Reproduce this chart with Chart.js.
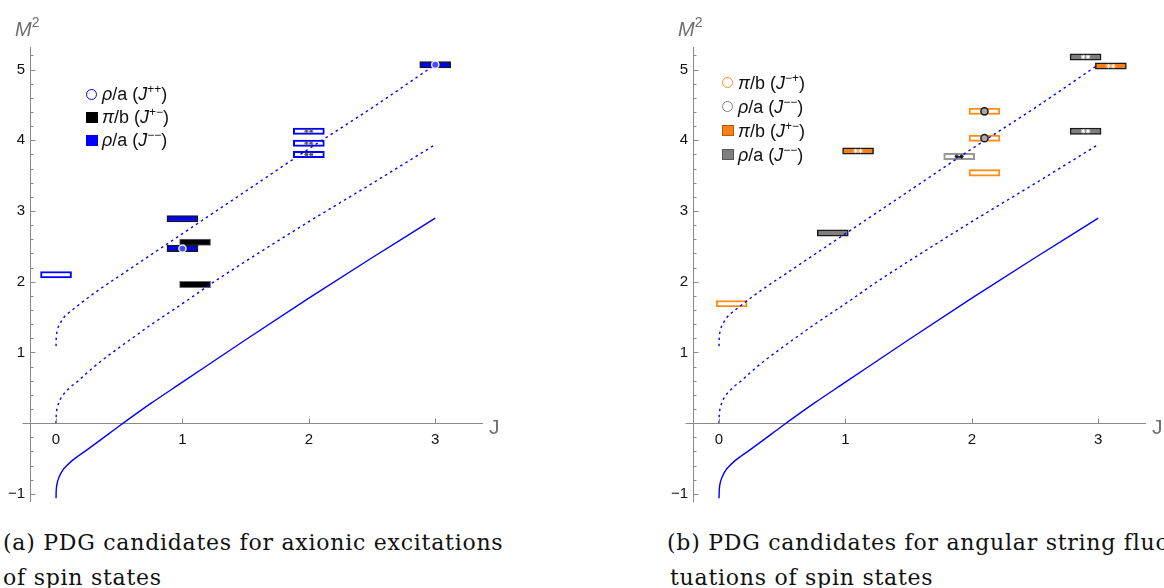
<!DOCTYPE html>
<html><head><meta charset="utf-8">
<script src="https://cdn.jsdelivr.net/npm/chart.js@4/dist/chart.umd.min.js"></script>
<style>
html,body{margin:0;padding:0;background:#fff;width:1164px;height:588px;overflow:hidden;position:relative;font-family:"Liberation Sans",Arial,sans-serif}
.pane{position:absolute;top:0;width:500px;height:515px}
.lbl{position:absolute;color:#6e6e6e;line-height:20px;font-size:20px;white-space:nowrap}
.lbl sup{font-size:14px;position:relative;top:-9px;vertical-align:baseline;font-style:normal}
.legend{position:absolute;font-size:18px;color:#111;white-space:nowrap}
.legend .row{height:23px;line-height:23px;position:relative;padding-left:16px}
.legend .sp{font-size:12px;position:relative;top:-7px}
.mk{position:absolute;left:0;top:6px;box-sizing:border-box}
.mk.c{width:11px;height:11px;border-radius:50%;border:1.6px solid #00f;background:#fff;top:6px}
.mk.s{width:12px;height:11px;top:6px}
.cap{position:absolute;font-family:"DejaVu Serif",serif;font-size:22px;letter-spacing:0.75px;line-height:35px;white-space:nowrap;color:#111}
</style></head>
<body>
<div class="pane" style="left:0px"><canvas id="ca" width="500" height="515"></canvas></div>
<div class="pane" style="left:663px"><canvas id="cb" width="500" height="515"></canvas></div>

<div class="lbl" style="left:15px;top:19px"><i>M</i><sup>2</sup></div>
<div class="lbl" style="left:678px;top:19px"><i>M</i><sup>2</sup></div>
<div class="lbl" style="left:489px;top:417px;font-size:21px">J</div>
<div class="lbl" style="left:1152px;top:417px;font-size:21px">J</div>

<div class="legend" style="left:86px;top:83px">
  <div class="row"><span class="mk c" style="border-color:#0000ff"></span><i>ρ</i>/a (<i>J</i><span class="sp">++</span>)</div>
  <div class="row"><span class="mk s" style="background:#000"></span><i>π</i>/b (<i>J</i><span class="sp">+−</span>)</div>
  <div class="row"><span class="mk s" style="background:#0000ff"></span><i>ρ</i>/a (<i>J</i><span class="sp">−−</span>)</div>
</div>
<div class="legend" style="left:722px;top:71px">
  <div class="row" style="height:24px;line-height:24px"><span class="mk c" style="border-color:#ff8c1a"></span><i>π</i>/b (<i>J</i><span class="sp">−+</span>)</div>
  <div class="row" style="height:24px;line-height:24px"><span class="mk c" style="border-color:#808080"></span><i>ρ</i>/a (<i>J</i><span class="sp">−−</span>)</div>
  <div class="row" style="height:24px;line-height:24px"><span class="mk s" style="background:#f7801a;border:1px solid #b85a00"></span><i>π</i>/b (<i>J</i><span class="sp">+−</span>)</div>
  <div class="row" style="height:24px;line-height:24px"><span class="mk s" style="background:#7f7f7f;border:1px solid #555"></span><i>ρ</i>/a (<i>J</i><span class="sp">−−</span>)</div>
</div>

<div class="cap" style="left:3px;top:525px">(a) PDG candidates for axionic excitations<br>of spin states</div>
<div class="cap" style="left:667px;top:525px">(b) PDG candidates for angular string fluc-<br><span style="padding-left:3px">tuations of spin states</span></div>

<script>
// ---------- data ----------
const tickJ = [0, 1, 2, 3];
const tickM2 = [-1, 1, 2, 3, 4, 5];

// Regge-like trajectories
const solidJ  = [0, 0.001, 0.004, 0.01, 0.02, 0.035, 0.055, 0.08, 0.12, 0.17, 0.25, 0.35, 0.5, 0.75, 1, 1.5, 2, 2.5, 3];
const solidM2 = [-1.06, -0.97, -0.90, -0.84, -0.78, -0.72, -0.66, -0.61, -0.54, -0.47, -0.37, -0.24, -0.04, 0.28, 0.58, 1.18, 1.77, 2.34, 2.90];
const midJ    = [0, 0.001, 0.004, 0.01, 0.02, 0.035, 0.055, 0.08, 0.12, 0.17, 0.25, 0.35, 0.5, 0.75, 1, 1.25, 1.5, 2, 2.5, 3];
const midM2   = [0, 0.09, 0.16, 0.22, 0.28, 0.34, 0.40, 0.45, 0.52, 0.59, 0.72, 0.87, 1.07, 1.39, 1.69, 2.00, 2.29, 2.85, 3.39, 3.94];
const upJ     = [0, 0.001, 0.004, 0.01, 0.02, 0.035, 0.055, 0.08, 0.12, 0.17, 0.25, 0.35, 0.5, 0.75, 1, 1.25, 1.5, 2, 2.5, 3];
const upM2    = [1.09, 1.18, 1.25, 1.31, 1.37, 1.42, 1.48, 1.53, 1.59, 1.66, 1.77, 1.90, 2.08, 2.38, 2.68, 2.98, 3.28, 3.88, 4.46, 5.07];

const boxHalf = 0.045;   // half height of mass bands in M^2

// panel (a)
const aBlueOpenJ  = [0, 2, 2, 2];
const aBlueOpenM2 = [2.10, 4.13, 3.96, 3.80];
const aBlueFillJ  = [1.0, 1.0, 3.0];
const aBlueFillM2 = [2.89, 2.47, 5.07];
const aBlackJ     = [1.1, 1.1];
const aBlackM2    = [2.56, 1.96];
const aCircleJ    = [1.0, 3.0];
const aCircleM2   = [2.47, 5.07];
const aStarJ      = [2, 2, 2];
const aStarM2     = [4.13, 3.96, 3.80];

// panel (b)
const bOrangeOpenJ  = [0.1, 2.1, 2.1, 2.1];
const bOrangeOpenM2 = [1.69, 4.41, 4.03, 3.54];
const bGrayOpenJ    = [1.9];
const bGrayOpenM2   = [3.77];
const bOrangeFillJ  = [1.1, 3.1];
const bOrangeFillM2 = [3.85, 5.05];
const bGrayFillJ    = [0.9, 2.9, 2.9];
const bGrayFillM2   = [2.69, 5.18, 4.13];
const bCircleJ      = [2.1, 2.1];
const bCircleM2     = [4.41, 4.03];
const bStarDarkJ    = [1.9];
const bStarDarkM2   = [3.77];
const bStarLightJ   = [1.1, 3.1, 2.9, 2.9];
const bStarLightM2  = [3.85, 5.05, 5.18, 4.13];

// ---------- helpers ----------
const pts = (xs, ys) => xs.map((x, i) => ({x, y: ys[i]}));
const boxes = (xs, ys) => xs.map((x, i) => ({x, y: [ys[i] - boxHalf, ys[i] + boxHalf]}));
const starPts = (xs, ys) => { const o = []; xs.forEach((x, i) => { o.push({x: x - 0.019, y: ys[i]}); o.push({x: x + 0.019, y: ys[i]}); }); return o; };

function lineDS(xs, ys, dashed) {
  return {type: 'line', data: pts(xs, ys), borderColor: '#0000ff', borderWidth: 1.4,
    borderDash: dashed ? [2.5, 3.5] : [], pointRadius: 0, fill: false,
    cubicInterpolationMode: 'monotone', order: 2};
}
function boxDS(xs, ys, fill, border, bw) {
  return {type: 'bar', data: boxes(xs, ys), backgroundColor: fill, borderColor: border,
    borderWidth: bw, borderSkipped: false, grouped: false, barThickness: 31, order: 3};
}
function starDS(xs, ys, color) {
  return {type: 'scatter', data: starPts(xs, ys), pointStyle: 'star', pointRadius: 2.2,
    borderColor: color, borderWidth: 1, backgroundColor: color, order: 1};
}
function circDS(xs, ys, fill, border) {
  return {type: 'scatter', data: pts(xs, ys), pointStyle: 'circle', pointRadius: 3.6,
    backgroundColor: fill, borderColor: border, borderWidth: 1.5, order: 0};
}

const axisTicks = {
  id: 'axisTicks',
  afterDraw(chart) {
    const {ctx, chartArea, scales: {x, y}} = chart;
    const y0 = Math.round(y.getPixelForValue(0)) + 0.5;
    const xl = Math.round(chartArea.left) + 0.5;
    ctx.save();
    ctx.strokeStyle = '#8a8a8a';
    ctx.lineWidth = 1;
    ctx.beginPath();
    ctx.moveTo(xl - 8, y0); ctx.lineTo(xl, y0);
    for (let i = -5; i <= 26; i++) {
      if (i === 0) continue;
      const py = Math.round(y.getPixelForValue(i / 5)) + 0.5;
      const len = (i % 5 === 0) ? 5 : 3;
      ctx.moveTo(xl, py); ctx.lineTo(xl + len, py);
    }
    tickJ.forEach(v => {
      const px = Math.round(x.getPixelForValue(v)) + 0.5;
      ctx.moveTo(px, y0); ctx.lineTo(px, y0 - 5);
    });
    ctx.stroke();
    ctx.restore();
  }
};

const fmt = v => (v < 0 ? '\u2212' + Math.abs(v) : String(v));

function makeChart(id, datasets) {
  return new Chart(document.getElementById(id), {
    type: 'scatter',
    data: {datasets},
    options: {
      responsive: false, animation: false, events: [],
      layout: {padding: {left: 0, top: 47, right: 18, bottom: 8}},
      plugins: {legend: {display: false}, tooltip: {enabled: false}},
      scales: {
        x: {type: 'linear', min: -0.206, max: 3.37, position: {y: 0}, offset: false,
          grid: {display: false, drawTicks: false},
          border: {display: true, color: '#8a8a8a', width: 1},
          afterBuildTicks: s => { s.ticks = tickJ.map(v => ({value: v})); },
          afterFit: s => { s.height = 0; },
          ticks: {padding: 8, color: '#111', font: {family: 'Liberation Sans', size: 15},
            maxRotation: 0, autoSkip: false, callback: v => fmt(v)}},
        y: {type: 'linear', min: -1.1, max: 5.32, position: 'left',
          grid: {display: false, drawTicks: false},
          border: {display: true, color: '#8a8a8a', width: 1},
          afterBuildTicks: s => { s.ticks = tickM2.map(v => ({value: v})); },
          afterFit: s => { s.width = 30; },
          ticks: {padding: 5, color: '#111', font: {family: 'Liberation Sans', size: 15},
            autoSkip: false, callback: v => fmt(v)}}
      }
    },
    plugins: [axisTicks]
  });
}

makeChart('ca', [
  circDS(aCircleJ, aCircleM2, '#4a4aff', 'rgba(255,255,255,0.9)'),
  starDS(aStarJ, aStarM2, '#555555'),
  lineDS(solidJ, solidM2, false),
  lineDS(midJ, midM2, true),
  lineDS(upJ, upM2, true),
  boxDS(aBlueOpenJ, aBlueOpenM2, '#ffffff', '#0000ff', 2),
  boxDS(aBlueFillJ, aBlueFillM2, '#0000ff', '#1a1a1a', 1.5),
  boxDS(aBlackJ, aBlackM2, '#000000', '#6a6a6a', 1)
]);

makeChart('cb', [
  circDS(bCircleJ, bCircleM2, '#a8a8a8', '#1a1a1a'),
  starDS(bStarDarkJ, bStarDarkM2, '#111111'),
  starDS(bStarLightJ, bStarLightM2, '#ffffff'),
  lineDS(solidJ, solidM2, false),
  lineDS(midJ, midM2, true),
  lineDS(upJ, upM2, true),
  boxDS(bOrangeOpenJ, bOrangeOpenM2, '#ffffff', '#ff8c1a', 2),
  boxDS(bGrayOpenJ, bGrayOpenM2, '#ffffff', '#999999', 2),
  boxDS(bOrangeFillJ, bOrangeFillM2, '#f7801a', '#1a1a1a', 1.5),
  boxDS(bGrayFillJ, bGrayFillM2, '#7f7f7f', '#1a1a1a', 1.5)
]);
</script>
</body></html>
